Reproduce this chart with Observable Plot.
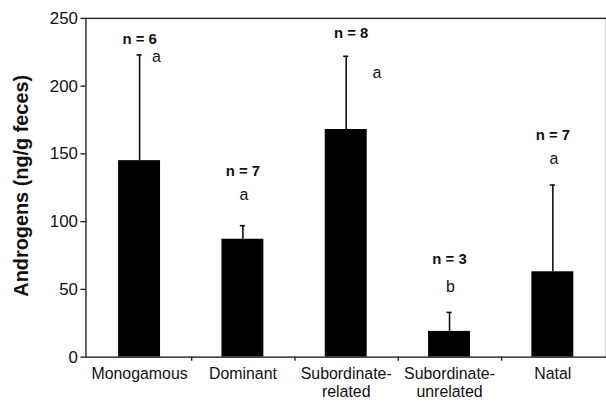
<!DOCTYPE html>
<html>
<head>
<meta charset="utf-8">
<script src="https://cdn.jsdelivr.net/npm/d3@7"></script>
<script src="https://cdn.jsdelivr.net/npm/@observablehq/plot@0.6"></script>
<style>
  html, body { margin: 0; padding: 0; background: #fff; overflow: hidden; width: 606px; height: 401px; }
  #chart svg { display: block; font-family: "Liberation Sans", Arial, Helvetica, sans-serif; }
</style>
</head>
<body>
<div id="chart"></div>
<script>
// ---- data ----
const categories = ["Monogamous", "Dominant", "Subordinate-related", "Subordinate-unrelated", "Natal"];
const categoryLabels = ["Monogamous", "Dominant", "Subordinate-\nrelated", "Subordinate-\nunrelated", "Natal"];
const means = [145, 87, 168, 19, 63];
const errorTops = [223, 97, 222, 33, 127];
const sampleSizes = [6, 7, 8, 3, 7];
const groupLetters = ["a", "a", "a", "b", "a"];
const nLabelY = [234.5, 137.5, 239, 72.5, 163.5];
const letterY = [221.5, 119.5, 210, 52, 146];
const yTicks = [0, 50, 100, 150, 200, 250];
const yTitle = "Androgens (ng/g feces)";

const rows = categories.map((c, i) => ({
  cat: c, mean: means[i], top: errorTops[i], n: sampleSizes[i],
  letter: groupLetters[i], ny: nLabelY[i], ly: letterY[i]
}));

const W = 610, H = 401, ML = 86, MT = 18, MB = 42, MR = 0;
const step = (W - ML - MR) / categories.length;
const barInset = (step - 43) / 2;
const capInset = (step - 6) / 2;
const ink = "#111";

const chart = Plot.plot({
  width: W, height: H,
  marginLeft: ML, marginTop: MT, marginBottom: MB, marginRight: MR,
  style: { fontFamily: "'Liberation Sans', Arial, Helvetica, sans-serif", color: ink, background: "#fff", overflow: "visible" },
  x: { type: "band", domain: categories, padding: 0 },
  y: { domain: [0, 250] },
  marks: [
    Plot.barY(rows, { x: "cat", y: "mean", fill: "#000", insetLeft: barInset, insetRight: barInset }),
    Plot.ruleX(rows, { x: "cat", y1: "mean", y2: "top", stroke: ink, strokeWidth: 1.6 }),
    Plot.tickY(rows, { x: "cat", y: "top", stroke: ink, strokeWidth: 1.6, insetLeft: capInset, insetRight: capInset }),
    Plot.frame({ stroke: "#222", strokeWidth: 1.4 }),
    Plot.axisY({ ticks: yTicks, tickSize: 5, tickPadding: 3, fontSize: 17, label: null, stroke: "#222", strokeWidth: 1.4 }),
    Plot.axisX({ tickSize: 0, tickPadding: 9, fontSize: 16, lineHeight: 1.12, label: null,
                 tickFormat: d => categoryLabels[categories.indexOf(d)] }),
    // category boundary ticks
    Plot.ruleX(categories.slice(0, categories.length - 1), { x: d => d, y1: 0, y2: -3, dx: step / 2, stroke: "#222", strokeWidth: 1.4 }),
    // n labels
    Plot.text(rows, { filter: d => d.cat !== "Subordinate-related", x: "cat", y: "ny", text: d => `n = ${d.n}`, fontWeight: "bold", fontSize: 15, fill: ink }),
    Plot.text(rows, { filter: d => d.cat === "Subordinate-related", x: "cat", y: "ny", dx: 5, text: d => `n = ${d.n}`, fontWeight: "bold", fontSize: 15, fill: ink }),
    // group letters
    Plot.text(rows, { filter: d => d.cat === "Monogamous", x: "cat", y: "ly", dx: 17, text: "letter", fontSize: 16, fill: ink }),
    Plot.text(rows, { filter: d => d.cat === "Subordinate-related", x: "cat", y: "ly", dx: 31, text: "letter", fontSize: 16, fill: ink }),
    Plot.text(rows, { filter: d => d.cat !== "Monogamous" && d.cat !== "Subordinate-related", x: "cat", y: "ly", dx: 1, text: "letter", fontSize: 16, fill: ink }),
    // y title
    Plot.text([yTitle], { frameAnchor: "left", textAnchor: "middle", dx: -65, dy: -2, rotate: -90, text: d => d, fontWeight: "bold", fontSize: 20, fill: ink })
  ]
});
document.getElementById("chart").appendChild(chart);
</script>
</body>
</html>
